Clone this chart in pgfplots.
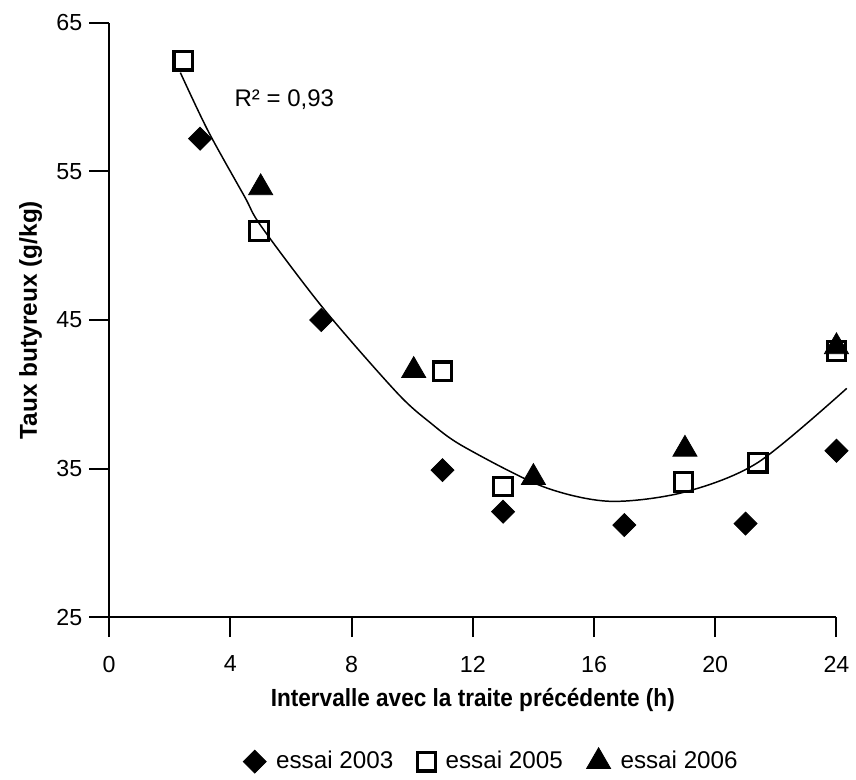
\documentclass[border=0pt]{standalone}
\usepackage{pgfplots}
\pgfplotsset{compat=1.18}
\usepackage{fontspec}
\setmainfont{Liberation Sans}
\newfontfamily\labfont[FakeStretch=0.91]{Liberation Sans}

\begin{document}
\begin{tikzpicture}
\begin{axis}[
    scale only axis,
    width=366.5pt,
    height=299.5pt,
    xmin=0, xmax=24,
    ymin=25, ymax=65,
    xtick={0,4,8,12,16,20,24},
    ytick={25,35,45,55,65},
    axis x line=bottom,
    axis y line=left,
    axis line style={-, line width=1pt},
    tick style={line width=1pt, black},
    tick align=outside,
    major tick length=10pt,
    xtick pos=bottom,
    ytick pos=left,
    tick label style={font=\fontsize{11.7}{13}\selectfont},
    xticklabel style={yshift=-6pt},
    /pgf/number format/assume math mode=true,
    xlabel={\labfont\bfseries\fontsize{12.5}{14}\selectfont Intervalle avec la traite précédente (h)},
    ylabel={\bfseries\fontsize{12.3}{14}\selectfont Taux butyreux (g/kg)},
    xlabel style={at={(axis description cs:0.5,-0.14)}, anchor=center},
    ylabel style={at={(axis description cs:-0.108,0.5)}, anchor=center},
    clip=false,
    legend columns=3,
    legend style={draw=none, at={(axis description cs:0.527,-0.243)}, anchor=center,
        font=\fontsize{12.2}{14}\selectfont,
        /tikz/every even column/.append style={column sep=10pt}},
    legend cell align=left,
]
% tendance polynomiale
\addplot[black, line width=0.75pt, smooth, forget plot] coordinates {
    (2.35,61.65) (3.27,57.7) (4.47,53.3) (5.02,51.3) (7.1,45.7) (9.5,40.1)
    (10.59,38.1) (11.68,36.5) (14.3,33.8) (16.5,32.8) (18.95,33.4)
    (21.4,35.4) (24.34,40.4)
};

\addplot[only marks, mark=square*, mark size=4.1pt, black, mark options={fill=black, rotate=45}] coordinates {
    (3,57.2) (7,45.0) (11,34.9) (13,32.1) (17,31.2) (21,31.3) (24,36.2)
};
\addlegendentry{\hspace{3pt}essai 2003}

\addplot[only marks, mark=square, mark size=4.7pt, black, mark options={line width=1.6pt, fill=white}] coordinates {
    (2.45,62.45) (4.95,51.0) (11,41.55) (13,33.8) (18.95,34.1) (21.4,35.4) (24,42.9)
};
\addlegendentry{\hspace{3pt}essai 2005}

\addplot[only marks, mark=triangle*, mark size=7pt, black, mark options={fill=black}] coordinates {
    (5,53.9) (10.05,41.6) (14,34.4) (19,36.3) (24,43.2)
};
\addlegendentry{\hspace{3pt}essai 2006}

\node[font=\fontsize{12.1}{14}\selectfont, anchor=center] at (axis cs:5.78,59.8) {R² = 0,93};
\end{axis}
\path ([xshift=-55pt,yshift=-78pt]current axis.south west) rectangle ([xshift=6.5pt,yshift=11.5pt]current axis.north east);
\end{tikzpicture}
\end{document}
